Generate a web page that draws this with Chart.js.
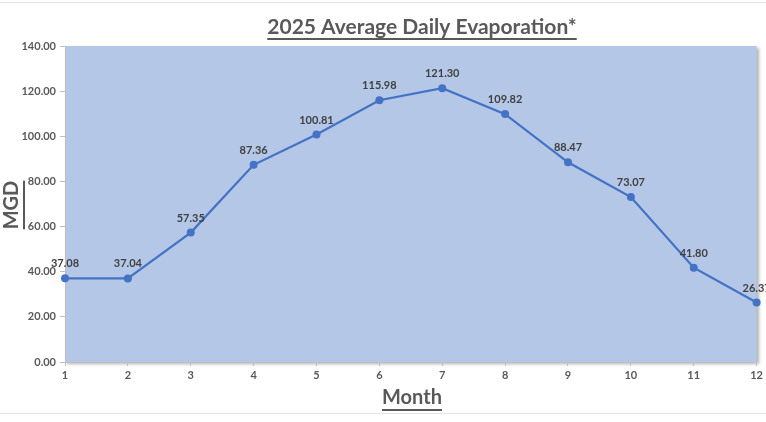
<!DOCTYPE html>
<html>
<head>
<meta charset="utf-8">
<script src="https://cdn.jsdelivr.net/npm/chart.js@4"></script>
<style>
  html, body { margin: 0; padding: 0; background: #fff; }
  #wrap { width: 766px; height: 422px; position: relative; }
</style>
</head>
<body>
<div id="wrap"><canvas id="mycanvas" width="766" height="422"></canvas></div>
<script>
var months = ['1', '2', '3', '4', '5', '6', '7', '8', '9', '10', '11', '12'];
var evaporation = [37.08, 37.04, 57.35, 87.36, 100.81, 115.98, 121.30, 109.82, 88.47, 73.07, 41.80, 26.37];
var chartTitle = '2025 Average Daily Evaporation*';
var yTitle = 'MGD';
var xTitle = 'Month';

var FONT = 'Lato, "Liberation Sans", sans-serif';

function underlinedText(ctx, text, x, y) {
  var w = ctx.measureText(text).width;
  ctx.fillText(text, x, y);
  ctx.fillRect(x - w / 2, y + 11, w, 2);
}

// plot area fill + labels that Chart.js has no option for
var extras = {
  id: 'extras',
  beforeDraw: function (chart) {
    var ctx = chart.ctx, a = chart.chartArea;
    ctx.save();
    // sheet lines around the chart object
    ctx.fillStyle = '#e3e3e3';
    ctx.fillRect(0, 2, chart.width, 1);
    ctx.fillRect(0, 413, chart.width, 1);
    ctx.shadowColor = 'rgba(0,0,0,0.3)';
    ctx.shadowBlur = 3;
    ctx.shadowOffsetX = 2;
    ctx.shadowOffsetY = 2;
    ctx.fillStyle = '#b4c7e7';
    ctx.fillRect(a.left, a.top, a.right - a.left, a.bottom - a.top);
    ctx.restore();
  },
  afterDraw: function (chart) {
    var ctx = chart.ctx;
    ctx.save();
    ctx.fillStyle = '#595959';
    ctx.textAlign = 'center';
    ctx.textBaseline = 'middle';
    ctx.font = 'bold 21px ' + FONT;
    underlinedText(ctx, chartTitle, 422, 27);
    ctx.font = 'bold 20px ' + FONT;
    underlinedText(ctx, xTitle, 412, 398);
    ctx.translate(12, 205);
    ctx.rotate(-Math.PI / 2);
    underlinedText(ctx, yTitle, 0, 0);
    ctx.restore();

    // data labels above each point
    var meta = chart.getDatasetMeta(0);
    ctx.save();
    ctx.fillStyle = '#404040';
    ctx.font = 'bold 11px ' + FONT;
    ctx.textAlign = 'center';
    ctx.textBaseline = 'bottom';
    meta.data.forEach(function (pt, i) {
      ctx.fillText(evaporation[i].toFixed(2), pt.x, pt.y - 9);
    });
    ctx.restore();
  }
};

var ctx = document.getElementById('mycanvas');

var lineGraph = new Chart(ctx, {
  type: 'line',
  data: {
    labels: months,
    datasets: [{
      label: 'Evaporation',
      data: evaporation,
      borderColor: '#4472c4',
      backgroundColor: '#4472c4',
      borderWidth: 2.25,
      pointRadius: 4,
      pointBorderWidth: 0,
      pointBackgroundColor: '#4472c4',
      tension: 0,
      clip: false
    }]
  },
  options: {
    responsive: false,
    animation: false,
    devicePixelRatio: 1,
    layout: { padding: { top: 46, right: 6, bottom: 0, left: 0 } },
    plugins: {
      legend: { display: false },
      title: { display: false },
      tooltip: { enabled: false }
    },
    scales: {
      x: {
        type: 'category',
        offset: false,
        afterFit: function (s) { s.height = 60; },
        grid: { display: true, drawOnChartArea: false, tickLength: 4, color: '#bfbfbf' },
        border: { color: '#bfbfbf' },
        ticks: { color: '#595959', font: { family: FONT, size: 11, weight: 'bold' }, padding: 3, maxRotation: 0 }
      },
      y: {
        min: 0,
        max: 140,
        afterFit: function (s) { s.width = 65; },
        grid: { display: true, drawOnChartArea: false, tickLength: 5, color: '#bfbfbf' },
        border: { color: '#bfbfbf' },
        ticks: {
          stepSize: 20,
          color: '#595959',
          font: { family: FONT, size: 11, weight: 'bold' },
          padding: 4,
          callback: function (v) { return v.toFixed(2); }
        }
      }
    }
  },
  plugins: [extras]
});
</script>
</body>
</html>
